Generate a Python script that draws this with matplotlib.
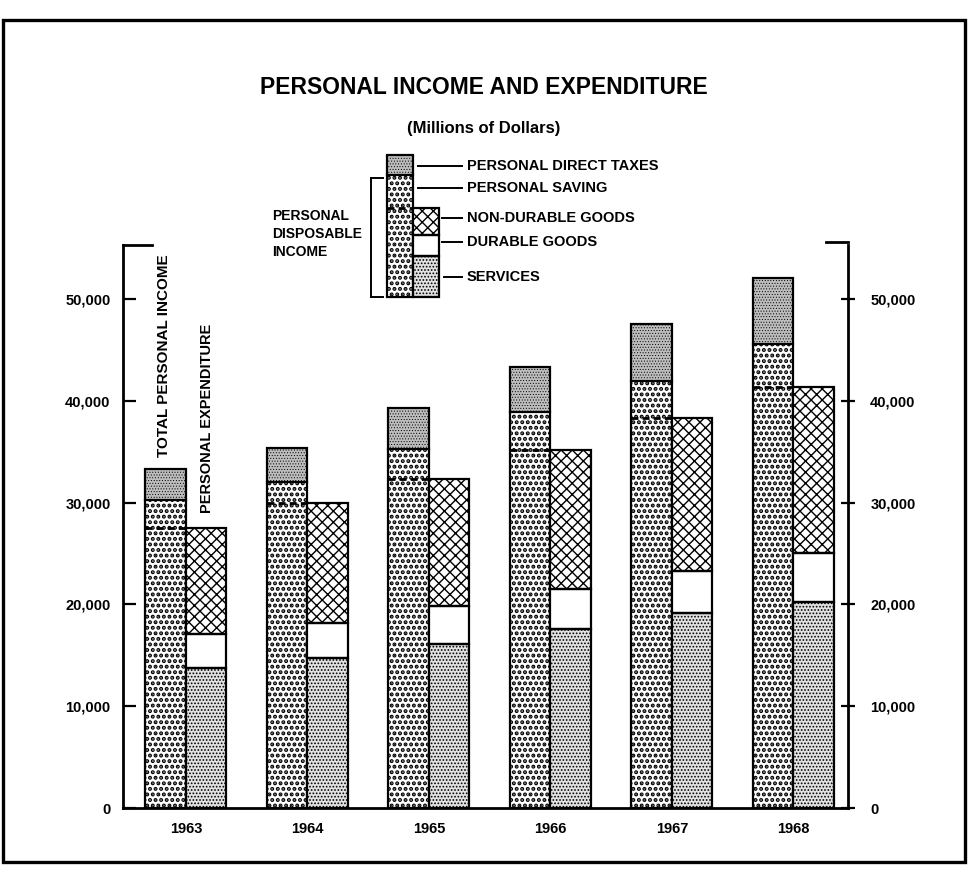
import matplotlib.pyplot as plt
from matplotlib.patches import Rectangle
from matplotlib.lines import Line2D

plt.rcParams['font.family'] = ['Liberation Sans', 'DejaVu Sans']
plt.rcParams['font.weight'] = 'bold'
plt.rcParams['hatch.linewidth'] = 1.2

# values in millions of dollars
years = ['1963', '1964', '1965', '1966', '1967', '1968']
total_income = [33300, 35400, 39300, 43300, 47500, 52100]
disposable_income = [30250, 32000, 35300, 38900, 41900, 45600]
expenditure = [27500, 30000, 32300, 35150, 38300, 41400]
services_plus_durable = [17100, 18200, 19800, 21500, 23300, 25000]
services = [13750, 14700, 16100, 17600, 19200, 20200]

y_ticks = [0, 10000, 20000, 30000, 40000, 50000]
y_labels = ['0', '10,000', '20,000', '30,000', '40,000', '50,000']

legend_labels = ['PERSONAL DIRECT TAXES', 'PERSONAL SAVING', 'NON-DURABLE GOODS',
                 'DURABLE GOODS', 'SERVICES']

W, H = 968, 875
fig = plt.figure(figsize=(W / 100, H / 100), dpi=100)


def fx(px):
    return px / W


def fy(py):
    return 1 - py / H


taxes = dict(fc='#bdbdbd', hatch='......', hlw=0.4)
dots = dict(fc='white', hatch='...', hlw=2.0)
cross = dict(fc='white', hatch='xxx', hlw=1.0)
plain = dict(fc='white', hatch=None, hlw=1.0)
speckle = dict(fc='#e2e2e2', hatch='.....', hlw=0.8)


def fill(x, y, w, h, st, transform):
    r = Rectangle((x, y), w, h, facecolor=st['fc'], edgecolor='black',
                  hatch=st['hatch'], linewidth=0, transform=transform)
    if hasattr(r, 'set_hatch_linewidth'):
        r.set_hatch_linewidth(st['hlw'])
    return r


def outline(x, y, w, h, transform, lw=1.6):
    return Rectangle((x, y), w, h, fill=False, edgecolor='black',
                     linewidth=lw, transform=transform)


# ---- main axes ----
ax = fig.add_axes([fx(123), fy(808), fx(848) - fx(123), fy(245) - fy(808)])
ax.set_xlim(-0.518, 5.449)
ax.set_ylim(0, 55300)
bw = 0.333

for i in range(len(years)):
    t = ax.transData
    # income bar
    ax.add_patch(fill(i - bw, 0, bw, disposable_income[i], dots, t))
    ax.add_patch(fill(i - bw, disposable_income[i], bw,
                      total_income[i] - disposable_income[i], taxes, t))
    ax.add_patch(outline(i - bw, 0, bw, total_income[i], t))
    ax.plot([i - bw, i], [disposable_income[i]] * 2, color='black', lw=1.6)
    ax.plot([i - bw, i], [expenditure[i]] * 2, color='black', lw=2,
            ls=(0, (2.5, 1.5)))
    # expenditure bar
    ax.add_patch(fill(i, 0, bw, services[i], speckle, t))
    ax.add_patch(fill(i, services[i], bw, services_plus_durable[i] - services[i], plain, t))
    ax.add_patch(fill(i, services_plus_durable[i], bw,
                      expenditure[i] - services_plus_durable[i], cross, t))
    ax.add_patch(outline(i, 0, bw, services[i], t))
    ax.add_patch(outline(i, services[i], bw, services_plus_durable[i] - services[i], t))
    ax.add_patch(outline(i, services_plus_durable[i], bw,
                         expenditure[i] - services_plus_durable[i], t))

for s in ['left', 'right', 'bottom']:
    ax.spines[s].set_linewidth(2)
ax.spines['top'].set_visible(False)
ax.plot([-0.518, -0.28], [55300, 55300], color='black', lw=2, clip_on=False)
ax.plot([5.27, 5.449], [55600, 55600], color='black', lw=2, clip_on=False)

ax.set_xticks(range(len(years)), years, fontsize=10.5)
ax.tick_params(axis='x', length=0, pad=10)
ax.set_yticks(y_ticks, y_labels, fontsize=10.5)
ax.tick_params(axis='y', direction='in', length=9, width=1.6, pad=9)

ax2 = ax.twinx()
ax2.set_ylim(0, 55300)
ax2.set_yticks(y_ticks, y_labels, fontsize=10.5)
ax2.tick_params(axis='y', direction='inout', length=10, width=1.6, pad=11)
for s in ['left', 'right', 'bottom', 'top']:
    ax2.spines[s].set_visible(False)

ax.text(-0.18, 44400, 'TOTAL PERSONAL INCOME', rotation=90, ha='center',
        va='center', fontsize=11)
ax.text(0.17, 38300, 'PERSONAL EXPENDITURE', rotation=90, ha='center',
        va='center', fontsize=10.5)

# ---- titles ----
fig.text(fx(484), fy(87), 'PERSONAL INCOME AND EXPENDITURE', ha='center',
         va='center', fontsize=16.5)
fig.text(fx(484), fy(129), '(Millions of Dollars)', ha='center',
         va='center', fontsize=12)

# ---- legend (figure pixel layout) ----
ft = fig.transFigure


def add(px0, py0, px1, py1, st):
    fig.add_artist(fill(fx(px0), fy(py1), fx(px1) - fx(px0), fy(py0) - fy(py1), st, ft))


def box(px0, py0, px1, py1):
    fig.add_artist(outline(fx(px0), fy(py1), fx(px1) - fx(px0), fy(py0) - fy(py1), ft))


def line(xs, ys, **kw):
    fig.add_artist(Line2D([fx(v) for v in xs], [fy(v) for v in ys],
                          transform=ft, color='black', lw=kw.get('lw', 1.4),
                          ls=kw.get('ls', '-')))


add(387, 175, 413, 297, dots)
add(387, 155, 413, 175, taxes)
box(387, 155, 413, 297)
line([387, 413], [175, 175], lw=1.6)
line([387, 413], [208, 208], lw=2, ls=(0, (2.5, 1.5)))
add(413, 256, 439, 297, speckle)
add(413, 235, 439, 256, plain)
add(413, 208, 439, 235, cross)
box(413, 256, 439, 297)
box(413, 235, 439, 256)
box(413, 208, 439, 235)

line([371, 371], [178, 297])
line([371, 383], [178, 178])
line([371, 383], [297, 297])

leader_y = [166, 188, 218, 242, 277]
leader_x0 = [418, 418, 442, 442, 444]
for lbl, ly, lx in zip(legend_labels, leader_y, leader_x0):
    line([lx, 462], [ly, ly])
    fig.text(fx(467), fy(ly), lbl, ha='left', va='center', fontsize=10.5)

for k, word in enumerate(['PERSONAL', 'DISPOSABLE', 'INCOME']):
    fig.text(fx(272), fy(216 + 18 * k), word, ha='left', va='center', fontsize=10)

# ---- outer frame ----
fig.add_artist(Rectangle((fx(3), fy(862)), fx(965) - fx(3), fy(20) - fy(862),
                         fill=False, edgecolor='black', linewidth=2.4, transform=ft))

fig.savefig('out.png', dpi=100)
